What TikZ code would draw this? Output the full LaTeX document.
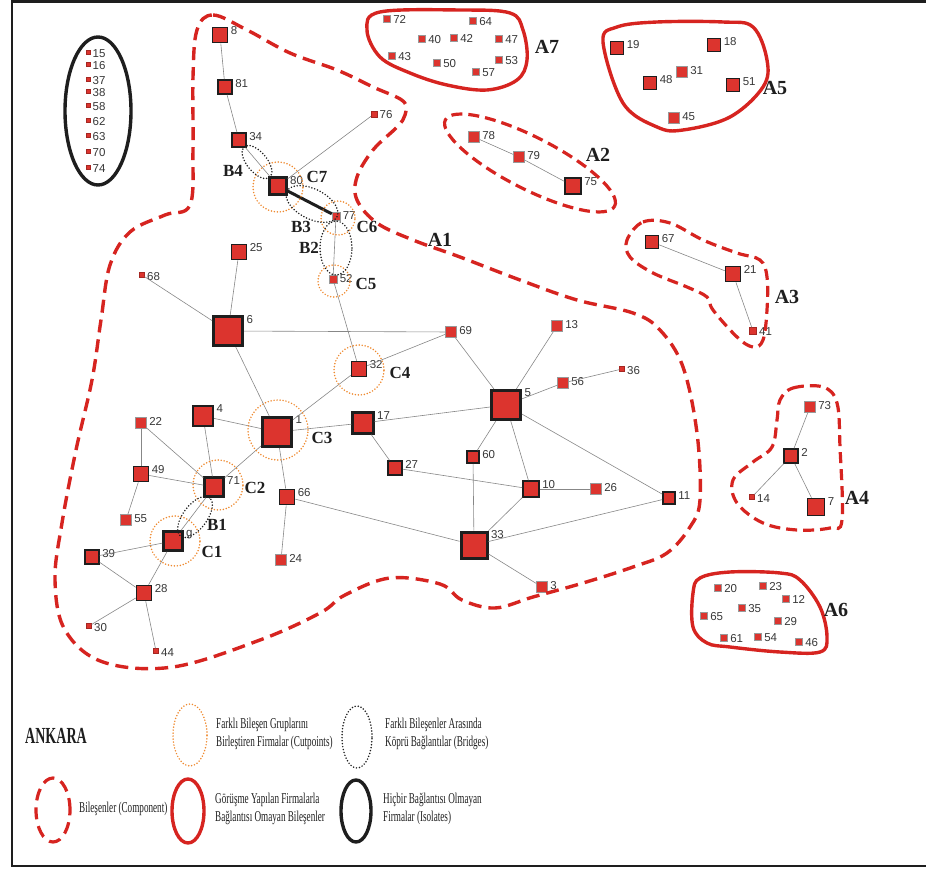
\documentclass[tikz,border=0pt]{standalone}
\usepackage{fontspec}
\setmainfont{Liberation Serif}
\newfontfamily\numfont{Liberation Sans}
\newfontfamily\narrowfont[FakeStretch=0.61]{Liberation Serif}
\definecolor{compred}{RGB}{214,36,32}
\definecolor{firmred}{RGB}{220,52,46}
\definecolor{cutorange}{RGB}{238,138,48}
\definecolor{lblgray}{RGB}{55,55,55}
\definecolor{edgegray}{RGB}{135,135,135}
\definecolor{ink}{RGB}{30,30,30}
\tikzset{
  firm/.style={rectangle, inner sep=0pt, minimum size=#1pt, fill=firmred},
  tiny/.style={firm=#1, draw=firmred!75!black, line width=0.3pt},
  sm/.style={firm=#1, draw=gray!80, line width=0.5pt},
  md/.style={firm=#1, draw=ink, line width=1.6pt},
  lg/.style={firm=#1, draw=ink, line width=2.4pt},
  xl/.style={firm=#1, draw=ink, line width=3pt},
  lbltxt/.style={anchor=north west, font=\numfont\fontsize{11.5}{13}\selectfont,
    text=lblgray, inner sep=0.3pt, xshift=2pt, yshift=0.5pt},
  lab/.style={label={[lbltxt]north east:#1}},
  link/.style={draw=edgegray, line width=0.6pt},
  compdash/.style={draw=compred, line width=3.4pt, dash pattern=on 13pt off 7pt},
  compsolid/.style={draw=compred, line width=3.4pt},
  isoline/.style={draw=ink, line width=3.4pt},
  cutring/.style={draw=cutorange, line width=1.7pt, dash pattern=on 0pt off 3pt, line cap=round},
  bridgering/.style={draw=ink, line width=1.7pt, dash pattern=on 0pt off 3pt, line cap=round},
  grouplbl/.style={font=\bfseries\fontsize{20}{20}\selectfont, text=ink, inner sep=0pt},
  ringlbl/.style={font=\bfseries\fontsize{17}{17}\selectfont, text=ink, inner sep=0pt},
  legtext/.style={anchor=west, align=left, font=\narrowfont\fontsize{15}{18}\selectfont, text=ink, inner sep=0pt}
}
\begin{document}
\begin{tikzpicture}[x=1pt,y=-1pt]
\useasboundingbox (0,0) rectangle (926,869);
% frame
\draw[line width=2.6pt, draw=ink] (926,1.5) -- (12,1.5) -- (12,866) -- (926,866);

% ---- firms of the large component
\node[md=15, lab=8] (n8) at (220,35) {};
\node[md=14, lab=81] (n81) at (225,87) {};
\node[md=14, lab=34] (n34) at (239,140) {};
\node[tiny=6, lab=76] (n76) at (374,114) {};
\node[lg=17, lab=80] (n80) at (278,186) {};
\node[sm=8, lab=77] (n77) at (336,216) {};
\node[sm=8, lab=52] (n52) at (333,279) {};
\node[md=15, lab=25] (n25) at (239,252) {};
\node[tiny=5, lab=68] (n68) at (142,275) {};
\node[xl=29, lab=6] (n6) at (228,331) {};
\node[sm=11, lab=69] (n69) at (451,332) {};
\node[sm=11, lab=13] (n13) at (557,326) {};
\node[tiny=5, lab=36] (n36) at (622,369) {};
\node[sm=11, lab=56] (n56) at (563,383) {};
\node[xl=29, lab=5] (n5) at (506,405) {};
\node[md=15, lab=32] (n32) at (359,369) {};
\node[lg=21, lab=17] (n17) at (363,423) {};
\node[xl=29, lab=1] (n1) at (277,432) {};
\node[lg=20, lab=4] (n4) at (203,416) {};
\node[sm=11, lab=22] (n22) at (141,423) {};
\node[md=15, lab=49] (n49) at (141,474) {};
\node[lg=19, lab=71] (n71) at (214,487) {};
\node[sm=11, lab=55] (n55) at (126,520) {};
\node[lg=19, lab=g] (n9) at (173,541) {};
\node[md=14, lab=39] (n39) at (92,557) {};
\node[md=15, lab=28] (n28) at (144,593) {};
\node[tiny=5, lab=30] (n30) at (89,626) {};
\node[tiny=5, lab=44] (n44) at (156,651) {};
\node[md=15, lab=66] (n66) at (287,497) {};
\node[sm=11, lab=24] (n24) at (281,560) {};
\node[md=14, lab=27] (n27) at (395,468) {};
\node[md=12, lab=60] (n60) at (473,457) {};
\node[md=16, lab=10] (n10) at (531,489) {};
\node[sm=11, lab=26] (n26) at (596,489) {};
\node[md=12, lab=11] (n11) at (669,498) {};
\node[xl=26, lab=33] (n33) at (474,545) {};
\node[sm=11, lab=3] (n3) at (542,587) {};

% ---- smaller connected groups
\node[sm=11, lab=78] (n78) at (474,137) {};
\node[sm=11, lab=79] (n79) at (519,157) {};
\node[md=16, lab=75] (n75) at (573,186) {};
\node[md=13, lab=67] (n67) at (652,242) {};
\node[md=15, lab=21] (n21) at (733,274) {};
\node[tiny=7, lab=41] (n41) at (753,331) {};
\node[sm=11, lab=73] (n73) at (810,407) {};
\node[md=14, lab=2] (n2) at (791,456) {};
\node[tiny=5, lab=14] (n14) at (752,497) {};
\node[md=17, lab=7] (n7) at (816,507) {};

% ---- groups with no tie to interviewed firms
\node[md=13, lab=19] (n19) at (617,48) {};
\node[md=13, lab=18] (n18) at (714,45) {};
\node[sm=11, lab=31] (n31) at (682,72) {};
\node[md=13, lab=48] (n48) at (650,83) {};
\node[md=13, lab=51] (n51) at (733,85) {};
\node[sm=11, lab=45] (n45) at (674,118) {};
\foreach \n/\x/\y in {20/718/588, 23/763/586, 12/786/599, 35/742/608, 65/704/616,
  29/778/621, 61/724/638, 54/758/637, 46/799/642,
  72/387/19, 64/473/21, 40/422/39, 42/454/38, 47/499/39, 43/392/56,
  50/437/63, 53/499/60, 57/476/72}
  \node[sm=7, lab=\n] (n\n) at (\x,\y) {};

% ---- isolates
\foreach \n/\y in {15/52, 16/64, 37/79, 38/91, 58/105, 62/120, 63/135, 70/151, 74/167}
  \node[tiny=4, lab=\n] (n\n) at (88,\y) {};

% ---- ties
\foreach \a/\b in {n8/n81, n81/n34, n34/n80, n80/n76, n77/n52, n52/n32, n25/n6,
  n68/n6, n6/n69, n6/n1, n32/n69, n32/n1, n69/n5, n13/n5, n56/n5, n56/n36,
  n5/n17, n17/n1, n17/n27, n27/n10, n5/n60, n60/n33, n5/n10, n10/n26, n10/n33,
  n5/n11, n11/n33, n33/n66, n33/n3, n1/n4, n1/n71, n1/n66, n66/n24, n4/n71,
  n22/n71, n22/n49, n49/n71, n49/n55, n71/n9, n9/n39, n9/n28, n39/n28,
  n28/n30, n28/n44, n78/n79, n79/n75, n67/n21, n21/n41, n73/n2, n2/n14, n2/n7}
  \draw[link] (\a) -- (\b);
\draw[draw=ink, line width=3pt] (n80) -- (n77);

% ---- cutpoints
\draw[cutring] (278,187) circle[radius=25pt];
\draw[cutring] (338,218) circle[radius=17pt];
\draw[cutring] (334,281) circle[radius=16pt];
\draw[cutring] (359,370) circle[radius=25pt];
\draw[cutring] (278,430) circle[radius=30pt];
\draw[cutring] (218,485) circle[radius=25pt];
\draw[cutring] (175,541) circle[radius=25pt];
% ---- bridges
\draw[bridgering, rotate around={-50:(257,162)}] (257,162) ellipse[x radius=20pt, y radius=10pt];
\draw[bridgering, rotate around={-27:(312,204)}] (312,204) ellipse[x radius=28pt, y radius=15pt];
\draw[bridgering] (336,248) ellipse[x radius=16pt, y radius=27pt];
\draw[bridgering, rotate around={53:(195,517)}] (195,517) ellipse[x radius=24pt, y radius=12pt];

\node[ringlbl] (lC7) at (317,177) {C7};
\node[ringlbl] (lB4) at (233,171) {B4};
\node[ringlbl] (lB3) at (301,227) {B3};
\node[ringlbl] (lC6) at (367,227) {C6};
\node[ringlbl] (lB2) at (309,248) {B2};
\node[ringlbl] (lC5) at (366,284) {C5};
\node[ringlbl] (lC4) at (400,373) {C4};
\node[ringlbl] (lC3) at (322,438) {C3};
\node[ringlbl] (lC2) at (255,488) {C2};
\node[ringlbl] (lB1) at (217,525) {B1};
\node[ringlbl] (lC1) at (212,552) {C1};

% ---- component outlines
\draw[compdash] plot[smooth cycle, tension=0.6] coordinates {
  (197,30) (213,15) (247,30) (290,53) (337,70) (373,87) (403,101) (405,115)
  (397,127) (373,150) (357,177) (357,200) (377,223) (413,240) (460,257)
  (520,280) (577,300) (633,313) (660,330) (683,367) (697,433) (700,500)
  (690,527) (667,553) (633,567) (583,583) (533,597) (495,608) (462,600)
  (440,584) (390,578) (345,595) (320,613) (260,640) (173,667) (103,662)
  (65,630) (55,580) (62,523) (76,450) (92,380) (101,320) (110,265) (130,232)
  (165,215) (190,205) (193,150) (193,77)};
\draw[compdash, line width=3.2pt, dash pattern=on 11pt off 6pt, rotate around={-27:(530,163)}]
  (530,163) ellipse[x radius=95pt, y radius=26pt];
\draw[compdash, line width=3.2pt, dash pattern=on 11pt off 6pt] plot[smooth cycle, tension=0.6] coordinates {
  (627,240) (643,222) (670,223) (703,240) (737,253) (760,260) (767,277)
  (767,310) (763,340) (753,347) (737,337) (713,310) (707,297) (687,287)
  (653,273) (630,257)};
\draw[compdash, line width=3.2pt, dash pattern=on 11pt off 6pt] plot[smooth cycle, tension=0.6] coordinates {
  (780,400) (793,388) (823,387) (837,403) (840,447) (842,520) (830,528)
  (797,530) (763,523) (737,503) (733,480) (753,462) (772,447) (777,420)};
\draw[compsolid] plot[smooth cycle, tension=0.6] coordinates {
  (603,42) (617,27) (657,22) (723,22) (753,27) (767,60) (763,87) (730,117)
  (683,130) (657,127) (623,103)};
\draw[compsolid] plot[smooth cycle, tension=0.6] coordinates {
  (700,578) (730,572) (780,573) (800,580) (820,607) (827,637) (820,652)
  (780,652) (730,647) (707,643) (693,627) (693,593)};
\draw[compsolid] plot[smooth cycle, tension=0.6] coordinates {
  (367,30) (380,12) (460,10) (510,13) (523,30) (527,60) (517,80) (487,90)
  (447,85) (410,73) (380,57)};
\draw[isoline] (98,111) ellipse[x radius=33pt, y radius=74pt];

\node[grouplbl] (gA1) at (440,240) {A1};
\node[grouplbl] (gA2) at (598,155) {A2};
\node[grouplbl] (gA3) at (787,297) {A3};
\node[grouplbl] (gA4) at (857,498) {A4};
\node[grouplbl] (gA5) at (775,88) {A5};
\node[grouplbl] (gA6) at (836,610) {A6};
\node[grouplbl] (gA7) at (547,47) {A7};

% ---- key
\node[font=\narrowfont\bfseries\fontsize{23}{23}\selectfont, text=ink, inner sep=0pt] (city) at (56,736) {ANKARA};
\draw[cutring] (190,735) ellipse[x radius=17pt, y radius=31pt];
\node[legtext] (kcut) at (216,734) {Farklı Bileşen Gruplarını\\Birleştiren Firmalar (Cutpoints)};
\draw[bridgering] (357,737) ellipse[x radius=15pt, y radius=31pt];
\node[legtext] (kbridge) at (385,734) {Farklı Bileşenler Arasında\\Köprü Bağlantılar (Bridges)};
\draw[compdash, line width=3.2pt, dash pattern=on 12pt off 7pt] (53,810) ellipse[x radius=17pt, y radius=32pt];
\node[legtext] (kcomp) at (79,809) {Bileşenler (Component)};
\draw[compsolid] (188,811) ellipse[x radius=16pt, y radius=32pt];
\node[legtext] (kfree) at (215,809) {Görüşme Yapılan Firmalarla\\Bağlantısı Omayan Bileşenler};
\draw[isoline] (356,811) ellipse[x radius=15pt, y radius=31pt];
\node[legtext] (kiso) at (383,809) {Hiçbir Bağlantısı Olmayan\\Firmalar (Isolates)};
\end{tikzpicture}
\end{document}
